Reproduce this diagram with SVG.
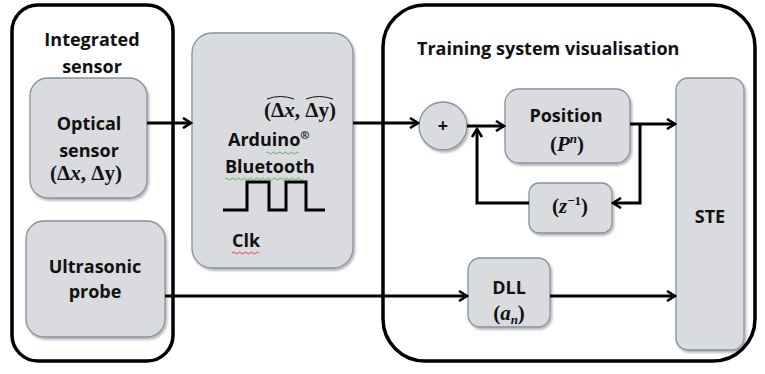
<svg xmlns="http://www.w3.org/2000/svg" width="765" height="374" viewBox="0 0 765 374">
<defs>
<marker id="arr" viewBox="0 0 12 12" refX="10" refY="6" markerWidth="12" markerHeight="12" markerUnits="userSpaceOnUse" orient="auto">
<path d="M2,1 L10,6 L2,11" fill="none" stroke="#000" stroke-width="2.6" stroke-linejoin="miter"/>
</marker>
<filter id="sh" x="-10%" y="-10%" width="130%" height="130%">
<feDropShadow dx="1.5" dy="2" stdDeviation="1.2" flood-color="#000" flood-opacity="0.3"/>
</filter>
</defs>
<style>
.outer{fill:#fff;stroke:#000;stroke-width:3.5}
.box{fill:#d9dbde;stroke:#8593a3;stroke-width:1.3;filter:url(#sh)}
.t{font-family:"Open Sans","Liberation Sans",sans-serif;font-weight:bold;font-size:18px;fill:#111;text-anchor:middle}
.m{font-family:"Liberation Serif","DejaVu Serif",serif;font-weight:bold;font-size:21px;fill:#111;text-anchor:middle}
.c{fill:none;stroke:#000;stroke-width:3}
.sq{fill:none;stroke-width:1}
</style>
<rect width="765" height="374" fill="#fff"/>
<g id="integrated-sensor">
<rect class="outer" x="12" y="5" width="161" height="356" rx="26"/>
<text class="t" x="92" y="46">Integrated</text>
<text class="t" x="92" y="73">sensor</text>
</g>
<g id="optical-sensor">
<rect class="box" x="30" y="78" width="117" height="120" rx="18"/>
<text class="t" x="89" y="130">Optical</text>
<text class="t" x="89" y="157">sensor</text>
<text class="m" x="86" y="180" font-weight="normal">(Δ<tspan font-style="italic" font-weight="bold">x</tspan>, Δ<tspan font-weight="bold">y</tspan>)</text>
</g>
<g id="ultrasonic-probe">
<rect class="box" x="26" y="221" width="139" height="116" rx="18"/>
<text class="t" x="95" y="273">Ultrasonic</text>
<text class="t" x="95" y="298">probe</text>
</g>
<g id="arduino">
<rect class="box" x="192" y="33" width="161" height="235" rx="20"/>
<text class="m" x="300" y="117" font-weight="normal">(Δ<tspan font-style="italic" font-weight="bold">x</tspan>, Δ<tspan font-weight="bold">y</tspan>)</text>
<path d="M267,99 Q280,94 294,99 M306,99 Q319,94 333,99" fill="none" stroke="#111" stroke-width="1"/>
<text class="t" x="228" y="146" style="text-anchor:start">Arduino<tspan font-size="11" dy="-7">®</tspan></text>
<text class="t" x="225" y="173" style="text-anchor:start">Bluetooth</text>
<path d="M223,210 L247,210 L247,182 L269,182 L269,210 L286,210 L286,182 L306,182 L306,210 L325,210" fill="none" stroke="#000" stroke-width="3"/>
<text class="t" x="232" y="247" style="text-anchor:start">Clk</text>
<path class="sq" stroke="#6a6" d="M266,153 q1.5,-2 3,0 t3,0 t3,0 t3,0 t3,0 t3,0 t3,0 t3,0 t3,0 t3,0 t3,0"/>
<path class="sq" stroke="#6a6" d="M225,179 q1.5,-2 3,0 t3,0 t3,0 t3,0 t3,0 t3,0 t3,0 t3,0 t3,0 t3,0 t3,0 t3,0 t3,0 t3,0 t3,0 t3,0 t3,0 t3,0 t3,0 t3,0 t3,0 t3,0 t3,0 t3,0 t3,0 t3,0"/>
<path class="sq" stroke="#d44" d="M232,253 q1.5,-2 3,0 t3,0 t3,0 t3,0 t3,0 t3,0 t3,0 t3,0 t3,0"/>
</g>
<g id="training-system">
<rect class="outer" x="383" y="5" width="372" height="356" rx="42"/>
<text class="t" x="417" y="55" style="text-anchor:start">Training system visualisation</text>
</g>
<g id="sum">
<circle class="box" cx="443" cy="126" r="24"/>
<text class="t" x="443" y="132" font-size="15">+</text>
</g>
<g id="position">
<rect class="box" x="505" y="89" width="125" height="74" rx="14"/>
<text class="t" x="566" y="122">Position</text>
<text class="m" x="567" y="151">(<tspan font-style="italic">P</tspan><tspan font-style="italic" font-size="13" dy="-8">n</tspan><tspan dy="8">)</tspan></text>
</g>
<g id="delay">
<rect class="box" x="529" y="183" width="83" height="50" rx="10"/>
<text class="m" x="570" y="213">(<tspan font-style="italic">z</tspan><tspan font-size="13" dy="-8">−1</tspan><tspan dy="8">)</tspan></text>
</g>
<g id="dll">
<rect class="box" x="468" y="258" width="82" height="69" rx="12"/>
<text class="t" x="509" y="294">DLL</text>
<text class="m" x="509" y="320">(<tspan font-style="italic">a</tspan><tspan font-style="italic" font-size="13" dy="4">n</tspan><tspan dy="-4">)</tspan></text>
</g>
<g id="ste">
<rect class="box" x="676" y="78" width="68" height="272" rx="12"/>
<text class="t" x="710" y="223">STE</text>
</g>
<g id="connectors">
<path class="c" d="M147,123 L191,123" marker-end="url(#arr)"/>
<path class="c" d="M353,123 L418,123" marker-end="url(#arr)"/>
<path class="c" d="M467,126 L504,126" marker-end="url(#arr)"/>
<path class="c" d="M529,203 L477,203 L477,129" marker-end="url(#arr)"/>
<path class="c" d="M630,124 L675,124" marker-end="url(#arr)"/>
<path class="c" d="M640,124 L640,203 L613,203" marker-end="url(#arr)"/>
<path class="c" d="M165,296 L467,296" marker-end="url(#arr)"/>
<path class="c" d="M550,296 L675,296" marker-end="url(#arr)"/>
</g>
</svg>
